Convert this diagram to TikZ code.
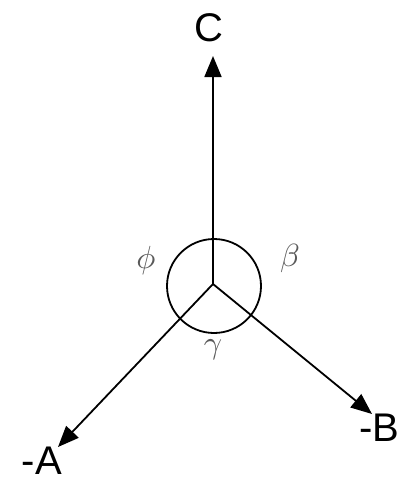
\documentclass[tikz,border=0pt]{standalone}
\usepackage{fontspec}
\setmainfont{Liberation Sans}
\usepackage{graphicx}
\usetikzlibrary{arrows.meta}
\begin{document}
\begin{tikzpicture}[x=1pt,y=-1pt,
  axis/.style={line width=1.8pt,-{Triangle[length=21pt,width=17pt]}},
  lbl/.style={font=\fontsize{40}{46}\selectfont,inner sep=0pt},
  ang/.style={text=black!65,inner sep=0pt}]
\useasboundingbox (0,0) rectangle (408,483);
\coordinate (o) at (213,284);
\coordinate (tc) at (213,56);
\coordinate (ta) at (58,447);
\coordinate (tb) at (372,414);
\node[draw,circle,line width=1.8pt,minimum size=94pt,inner sep=0pt] (circ) at (214,286) {};
\draw[axis] (o) -- (tc);
\draw[axis] (o) -- (ta);
\draw[axis] (o) -- (tb);
\node[lbl] (lc) at (209,28) {C};
\node[lbl] (la) at (42,461) {-A};
\node[lbl] (lb) at (379,428) {-B};
\node[ang] (phi) at (146,260) {\scalebox{3.2}{$\phi$}};
\node[ang] (beta) at (290,258) {\scalebox{3.2}{$\beta$}};
\node[ang] (gam) at (213,350) {\scalebox{3.2}{$\gamma$}};
\end{tikzpicture}
\end{document}
